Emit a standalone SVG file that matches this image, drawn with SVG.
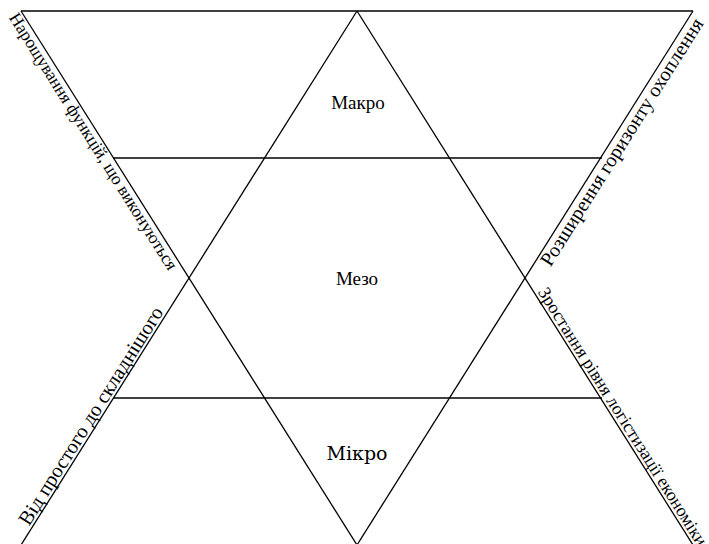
<svg xmlns="http://www.w3.org/2000/svg" width="709" height="544" viewBox="0 0 709 544">
<rect width="709" height="544" fill="#fff"/>
<g id="lines" stroke="#000" stroke-width="1.3" fill="none">
  <line x1="21" y1="11" x2="693" y2="11"/>
  <line x1="21" y1="11" x2="357" y2="545"/>
  <line x1="693" y1="11" x2="357" y2="545"/>
  <line x1="357" y1="11" x2="21" y2="545"/>
  <line x1="357" y1="11" x2="693" y2="545"/>
  <line x1="113" y1="158" x2="602" y2="158"/>
  <line x1="113" y1="398" x2="602" y2="398"/>
</g>
<g id="makro"><text font-family="Times New Roman" font-size="19" text-anchor="middle" x="358" y="109">Макро</text></g>
<g id="mezo"><text font-family="serif" font-size="19" text-anchor="middle" x="357" y="285">Мезо</text></g>
<g id="mikro"><text font-family="DejaVu Serif" font-size="19" text-anchor="middle" x="357" y="460">Мікро</text></g>
<g id="label-ul"><text font-family="Liberation Serif" font-size="17.5" transform="translate(8.6,17.6) rotate(57.8)">Нарощування функцій, що виконуються</text></g>
<g id="label-ll"><text font-family="Times New Roman" font-size="20.5" transform="translate(28.9,526.8) rotate(-57.8)">Від простого до складнішого</text></g>
<g id="label-ur"><text font-family="serif" font-size="20" transform="translate(550.5,267.4) rotate(-57.8)">Розширення горизонту охоплення</text></g>
<g id="label-lr"><text font-family="Liberation Serif" font-size="18" transform="translate(537.4,292.1) rotate(57.8)">Зростання рівня логістизації економіки</text></g>
</svg>
